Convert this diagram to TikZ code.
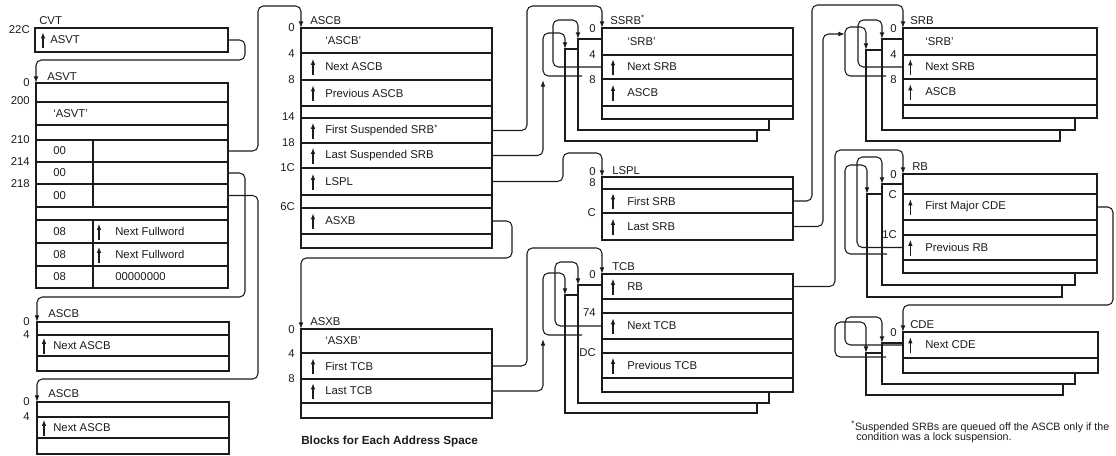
\documentclass[tikz,border=0pt]{standalone}
\usepackage{fontspec}
\setmainfont{Liberation Sans}
\usetikzlibrary{arrows.meta,fit}
\definecolor{ink}{HTML}{1C1C1C}
\tikzset{
  fld/.style={draw=ink,line width=1pt,fill=white,inner sep=0pt,outer sep=0pt},
  shd/.style={draw=ink,line width=1pt,fill=white,inner sep=0pt,outer sep=0pt},
  fldtxt/.style={anchor=west,inner sep=0pt,text=ink},
  off/.style={anchor=east,inner sep=0pt,text=ink},
  ttl/.style={anchor=base west,inner sep=0pt,text=ink},
  conn/.style={draw=ink,line width=.8pt,rounded corners=4pt,-{Latex[length=5pt,width=3.6pt]}},
  ptr/.style={draw=ink,line width=1pt,-{Latex[length=4.8pt,width=3.4pt]}},
  note/.style={anchor=west,inner sep=0pt,text=ink,font=\fontsize{8}{9}\selectfont},
}
\def\txo{12pt}\def\pto{5.5pt}
\newcommand{\fld}[6]{\node[fld,fit={(#2,#4)(#3,#5)}] (#1) {};
  \node[fldtxt] (#1-t) at ([xshift=\txo]#1.west) {#6};}
\newcommand{\pfld}[6]{\fld{#1}{#2}{#3}{#4}{#5}{#6}
  \draw[ptr] ([xshift=\pto,yshift=-6pt]#1.west) -- ([xshift=\pto,yshift=6pt]#1.west);}

\begin{document}
\begin{tikzpicture}[x=.75pt,y=-.75pt,font=\fontsize{8.5}{10}\selectfont]
\useasboundingbox (0,0) rectangle (1116,455);
% CVT and ASVT
\node[ttl] (cvt-l) at (39,24) {CVT};
\node[off] (cvt-o) at (30,30) {22C};
\def\txo{11.25pt}\def\pto{6pt}
\pfld{cvt-asvt}{35}{228}{28}{52}{ASVT}
\node[ttl] (asvt-l) at (47,80) {ASVT};
\def\txo{12.75pt}\def\pto{5.25pt}
\fld{asvt-r0}{36}{228}{83}{102}{}
\fld{asvt-r1}{36}{228}{102}{125}{`ASVT'}
\fld{asvt-r2}{36}{228}{125}{140}{}
\fld{asvt-a210}{36}{93}{140}{162}{00}
\fld{asvt-b210}{93}{228}{140}{162}{}
\fld{asvt-a214}{36}{93}{162}{184}{00}
\fld{asvt-b214}{93}{228}{162}{184}{}
\fld{asvt-a218}{36}{93}{184}{207}{00}
\fld{asvt-b218}{93}{228}{184}{207}{}
\fld{asvt-r6}{36}{228}{207}{220}{}
\fld{asvt-a1}{36}{93}{220}{243}{08}
\fld{asvt-a2}{36}{93}{243}{266}{08}
\fld{asvt-a3}{36}{93}{266}{288}{08}
\def\txo{16.5pt}\def\pto{4.5pt}
\pfld{asvt-b1}{93}{228}{220}{243}{Next Fullword}
\pfld{asvt-b2}{93}{228}{243}{266}{Next Fullword}
\fld{asvt-b3}{93}{228}{266}{288}{00000000}
\node[off] (asvt-o0) at (30,83) {0};
\node[off] (asvt-o200) at (30,101) {200};
\node[off] (asvt-o210) at (30,140) {210};
\node[off] (asvt-o214) at (30,162) {214};
\node[off] (asvt-o218) at (30,184) {218};
% the two ASCBs on the left
\def\txo{12pt}\def\pto{5.25pt}
\node[ttl] (asc1-l) at (48,317) {ASCB};
\fld{asc1-r0}{37}{229}{322}{335}{}
\pfld{asc1-next}{37}{229}{335}{356}{Next ASCB}
\fld{asc1-r2}{37}{229}{356}{371}{}
\node[off] (asc1-o0) at (30,322) {0};
\node[off] (asc1-o4) at (30,335) {4};
\node[ttl] (asc2-l) at (48,397) {ASCB};
\fld{asc2-r0}{37}{229}{402}{417}{}
\pfld{asc2-next}{37}{229}{417}{438}{Next ASCB}
\fld{asc2-r2}{37}{229}{438}{454}{}
\node[off] (asc2-o0) at (30,402) {0};
\node[off] (asc2-o4) at (30,417) {4};
% ASCB and ASXB
\def\txo{18pt}\def\pto{9pt}
\node[ttl] (ascb-l) at (310,24) {ASCB};
\fld{ascb-r0}{301}{492}{28}{53}{`ASCB'}
\pfld{ascb-next}{301}{492}{53}{80}{Next ASCB}
\pfld{ascb-prev}{301}{492}{80}{106}{Previous ASCB}
\fld{ascb-r3}{301}{492}{106}{118}{}
\pfld{ascb-fss}{301}{492}{118}{143}{First Suspended SRB\textsuperscript{*}}
\pfld{ascb-lss}{301}{492}{143}{168}{Last Suspended SRB}
\pfld{ascb-lspl}{301}{492}{168}{195}{LSPL}
\fld{ascb-r7}{301}{492}{195}{208}{}
\pfld{ascb-asxb}{301}{492}{208}{234}{ASXB}
\fld{ascb-r9}{301}{492}{234}{248}{}
\node[off] (ascb-o0) at (295,28) {0};
\node[off] (ascb-o4) at (295,54) {4};
\node[off] (ascb-o8) at (295,80) {8};
\node[off] (ascb-o14) at (295,117) {14};
\node[off] (ascb-o18) at (295,143) {18};
\node[off] (ascb-o1c) at (295,168) {1C};
\node[off] (ascb-o6c) at (295,207) {6C};
\node[ttl] (asxb-l) at (310,325) {ASXB};
\fld{asxb-r0}{301}{492}{329}{353}{`ASXB'}
\pfld{asxb-ftcb}{301}{492}{353}{379}{First TCB}
\pfld{asxb-ltcb}{301}{492}{379}{403}{Last TCB}
\fld{asxb-r3}{301}{492}{403}{418}{}
\node[off] (asxb-o0) at (295,330) {0};
\node[off] (asxb-o4) at (295,354) {4};
\node[off] (asxb-o8) at (295,379) {8};
\node[anchor=west,inner sep=0pt,text=ink,font=\fontsize{8.8}{10}\selectfont\bfseries] (caption) at (301,441) {Blocks for Each Address Space};
% pointers out of CVT and ASVT
\draw[conn] (cvt-asvt.east) -| (245,60) -| (asvt-r0.north west);
\draw[conn] (asvt-b210.east) -| (258,6) -| (ascb-r0.north west);
\draw[conn] (asvt-b214.east) -| (245,297) -| (asc1-r0.north west);
\draw[conn] (asvt-b218.east) -| (258,379) -| (asc2-r0.north west);
% SSRB queue
\def\txo{18.75pt}\def\pto{8.25pt}
\node[shd,fit={(565,49)(757,141)}] (ssrb-s2) {};
\node[shd,fit={(578,39)(769,130)}] (ssrb-s1) {};
\node[ttl] (ssrb-l) at (610,24) {SSRB\textsuperscript{*}};
\fld{ssrb-r0}{602}{793}{28}{55}{`SRB'}
\pfld{ssrb-next}{602}{793}{55}{79}{Next SRB}
\pfld{ssrb-ascb}{602}{793}{79}{106}{ASCB}
\fld{ssrb-r3}{602}{793}{106}{119}{}
\node[off] (ssrb-o0) at (596,29) {0};
\node[off] (ssrb-o4) at (596,55) {4};
\node[off] (ssrb-o8) at (596,80) {8};
\coordinate (ssrb-s1n) at (582,76);
\coordinate (ssrb-lastin) at (543,80);
\draw[conn] (ssrb-next.west) -| (553,20) -| (ssrb-s1.north west);
\draw[conn] (ssrb-s1n) -| (543,33) -| (ssrb-s2.north west);
% LSPL
\node[ttl] (lspl-l) at (612,174) {LSPL};
\fld{lspl-r0}{602}{793}{177}{189}{}
\pfld{lspl-fsrb}{602}{793}{189}{213}{First SRB}
\pfld{lspl-lsrb}{602}{793}{213}{240}{Last SRB}
\node[off] (lspl-o0) at (596,172) {0};
\node[off] (lspl-o8) at (596,183) {8};
\node[off] (lspl-oc) at (596,213) {C};
% TCB queue
\node[shd,fit={(565,295)(757,413)}] (tcb-s2) {};
\node[shd,fit={(578,285)(769,403)}] (tcb-s1) {};
\node[ttl] (tcb-l) at (612,270) {TCB};
\pfld{tcb-rb}{602}{793}{274}{299}{RB}
\fld{tcb-r1}{602}{793}{299}{313}{}
\pfld{tcb-next}{602}{793}{313}{339}{Next TCB}
\fld{tcb-r3}{602}{793}{339}{353}{}
\pfld{tcb-prev}{602}{793}{353}{378}{Previous TCB}
\fld{tcb-r5}{602}{793}{378}{392}{}
\node[off] (tcb-o0) at (596,275) {0};
\node[off] (tcb-o74) at (596,313) {74};
\node[off] (tcb-odc) at (596,353) {DC};
\coordinate (tcb-s1n) at (582,335);
\coordinate (tcb-lastin) at (543,339);
\draw[conn] (tcb-next.west) -| (555,262) -| (tcb-s1.north west);
\draw[conn] (tcb-s1n) -| (543,273) -| (tcb-s2.north west);
% pointers out of ASCB and ASXB
\draw[conn] (ascb-fss.east) -| (527,6) -| (ssrb-r0.north west);
\draw[conn] (ascb-lss.east) -| (ssrb-lastin);
\draw[conn] (ascb-lspl.east) -| (563,153) -| (lspl-r0.north west);
\draw[conn] (ascb-asxb.east) -| (512,258) -| (asxb-r0.north west);
\draw[conn] (asxb-ftcb.east) -| (527,248) -| (tcb-rb.north west);
\draw[conn] (asxb-ltcb.east) -| (tcb-lastin);
% SRB queue
\def\txo{16.5pt}\def\pto{5.5pt}
\node[shd,fit={(866,50)(1060,141)}] (srb-s2) {};
\node[shd,fit={(882,39)(1075,130)}] (srb-s1) {};
\node[ttl] (srb-l) at (910,24) {SRB};
\fld{srb-r0}{903}{1097}{28}{55}{`SRB'}
\pfld{srb-next}{903}{1097}{55}{79}{Next SRB}
\pfld{srb-ascb}{903}{1097}{79}{105}{ASCB}
\fld{srb-r3}{903}{1097}{105}{118}{}
\node[off] (srb-o0) at (897,29) {0};
\node[off] (srb-o4) at (897,55) {4};
\node[off] (srb-o8) at (897,80) {8};
\coordinate (srb-s1n) at (886,76);
\coordinate (srb-lastin) at (845,34);
\draw[conn] (srb-next.west) -| (858,20) -| (srb-s1.north west);
\draw[conn] (srb-s1n) -| (845,27) -| (srb-s2.north west);
\draw[conn] (lspl-fsrb.east) -| (812,5) -| (srb-r0.north west);
\draw[conn] (lspl-lsrb.east) -| (823,34) -- (srb-lastin);
% RB queue
\node[shd,fit={(867,194)(1062,297)}] (rb-s2) {};
\node[shd,fit={(882,184)(1075,285)}] (rb-s1) {};
\node[ttl] (rb-l) at (912,170) {RB};
\fld{rb-r0}{903}{1097}{174}{194}{}
\pfld{rb-fmc}{903}{1097}{194}{220}{First Major CDE}
\fld{rb-r2}{903}{1097}{220}{235}{}
\pfld{rb-prev}{903}{1097}{235}{260}{Previous RB}
\fld{rb-r4}{903}{1097}{260}{273}{}
\node[off] (rb-o0) at (897,175) {0}; 
\node[off] (rb-oc) at (897,195) {C};
\node[off] (rb-o1c) at (897,235) {1C};
\coordinate (rb-s1n) at (887,254);
\draw[conn] (rb-prev.west) -| (857,157) -| (rb-s1.north west);
\draw[conn] (rb-s1n) -| (845,165) -| (rb-s2.north west);
\draw[conn] (tcb-rb.east) -| (835,150) -| (rb-r0.north west);
% CDE queue
\node[shd,fit={(866,353)(1063,395)}] (cde-s2) {};
\node[shd,fit={(882,343)(1075,384)}] (cde-s1) {};
\node[ttl] (cde-l) at (910,328) {CDE};
\pfld{cde-next}{903}{1098}{332}{358}{Next CDE}
\fld{cde-r1}{903}{1098}{358}{373}{}
\node[off] (cde-o0) at (897,333) {0};
\coordinate (cde-s1n) at (886,357);
\draw[conn] (cde-next.west) -| (845,317) -| (cde-s1.north west);
\draw[conn] (cde-s1n) -| (835,322) -| (cde-s2.north west);
\draw[conn] (rb-fmc.east) -| (1113,305) -| (cde-next.north west);
% footnote
\node[note] (note1) at (851,427) {\textsuperscript{*}Suspended SRBs are queued off the ASCB only if the};
\node[note] (note2) at (856,438) {condition was a lock suspension.};
\end{tikzpicture}
\end{document}
